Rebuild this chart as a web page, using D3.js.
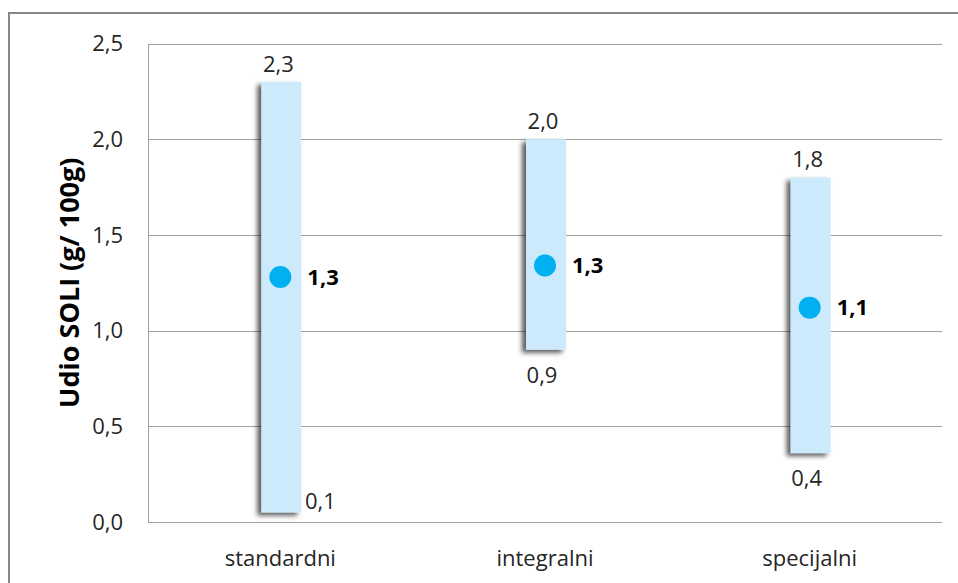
<!DOCTYPE html>
<html><head><meta charset="utf-8">
<script src="https://cdn.jsdelivr.net/npm/d3@7"></script>
<style>
html,body{margin:0;padding:0;background:#fff;}
svg{display:block;font-family:"Open Sans",sans-serif;}
</style></head>
<body>
<svg id="chart" width="958" height="583"></svg>
<script>
const categories = ["standardni", "integralni", "specijalni"];
const highValues = [2.3, 2.0, 1.8];
const lowValues  = [0.05, 0.9, 0.36];
const meanValues = [1.28, 1.34, 1.12];
const yTicks = [0, 0.5, 1.0, 1.5, 2.0, 2.5];
const yTitle = "Udio SOLI (g/ 100g)";

const fmt = v => (Math.round(v * 10) / 10).toFixed(1).replace(".", ",");

const svg = d3.select("#chart");
const plot = {left: 148, right: 942, top: 43.5, bottom: 522};

const defs = svg.append("defs");
const f = defs.append("filter").attr("id", "shadow").attr("x", "-50%").attr("y", "-10%").attr("width", "200%").attr("height", "120%");
f.append("feDropShadow").attr("dx", -4).attr("dy", 3).attr("stdDeviation", 2.5)
  .attr("flood-color", "#000").attr("flood-opacity", 0.65);

// outer border
svg.append("rect").attr("x", 9).attr("y", 13).attr("width", 970).attr("height", 600)
  .attr("fill", "#fff").attr("stroke", "#878787").attr("stroke-width", 2);

const x = d3.scalePoint().domain(categories).range([plot.left, plot.right]).padding(0.5);
const y = d3.scaleLinear().domain([0, 2.5]).range([plot.bottom, plot.top]);

// gridlines
svg.append("g").selectAll("line").data(yTicks).join("line")
  .attr("x1", plot.left).attr("x2", plot.right)
  .attr("y1", d => Math.round(y(d)) + 0.5).attr("y2", d => Math.round(y(d)) + 0.5)
  .attr("stroke", "#a0a0a0").attr("stroke-width", 1);

// y axis line
svg.append("line").attr("x1", plot.left + 0.5).attr("x2", plot.left + 0.5)
  .attr("y1", Math.round(y(2.5)) + 0.5).attr("y2", Math.round(y(0)) + 0.5)
  .attr("stroke", "#a0a0a0");

// y tick labels
svg.append("g").selectAll("text").data(yTicks).join("text")
  .attr("x", 123).attr("y", d => y(d)).attr("dy", "0.35em")
  .attr("text-anchor", "end").attr("font-size", 22).attr("fill", "#262626")
  .text(d => d.toFixed(1).replace(".", ","));

// y title
svg.append("text").attr("transform", `translate(79,${(plot.top + plot.bottom) / 2}) rotate(-90)`)
  .attr("text-anchor", "middle").attr("font-size", 27).attr("font-weight", "bold").attr("fill", "#000")
  .text(yTitle);

// category labels
svg.append("g").selectAll("text").data(categories).join("text")
  .attr("x", d => x(d)).attr("y", 566).attr("text-anchor", "middle")
  .attr("font-size", 22).attr("fill", "#262626").text(d => d);

const data = categories.map((c, i) => ({c, hi: highValues[i], lo: lowValues[i], mean: meanValues[i]}));
const barW = 40;

// bars
svg.append("g").selectAll("rect").data(data).join("rect")
  .attr("x", d => x(d.c) - barW / 2 + 1).attr("width", barW)
  .attr("y", d => y(d.hi)).attr("height", d => y(d.lo) - y(d.hi))
  .attr("fill", "#cdeafc").attr("filter", "url(#shadow)");

// high labels
svg.append("g").selectAll("text").data(data).join("text")
  .attr("x", d => x(d.c) - 2).attr("y", d => y(d.hi) - 10).attr("text-anchor", "middle")
  .attr("font-size", 22).attr("fill", "#262626").text(d => fmt(d.hi));

// low labels
svg.append("g").selectAll("text").data(data).join("text")
  .each(function(d) {
    const below = y(d.lo) + 40 <= plot.bottom;
    d3.select(this)
      .attr("x", below ? x(d.c) - 3 : x(d.c) + barW / 2 + 20)
      .attr("y", below ? y(d.lo) + 33 : y(d.lo) - 3)
      .attr("text-anchor", "middle");
  })
  .attr("font-size", 22).attr("fill", "#262626").text(d => fmt(d.lo));

// mean dots
svg.append("g").selectAll("circle").data(data).join("circle")
  .attr("cx", d => x(d.c)).attr("cy", d => y(d.mean)).attr("r", 11)
  .attr("fill", "#00b0f0");

// mean labels
svg.append("g").selectAll("text").data(data).join("text")
  .attr("x", d => x(d.c) + 27).attr("y", d => y(d.mean)).attr("dy", "0.35em")
  .attr("font-size", 22).attr("font-weight", "bold").attr("fill", "#000").text(d => fmt(d.mean));
</script>
</body></html>
